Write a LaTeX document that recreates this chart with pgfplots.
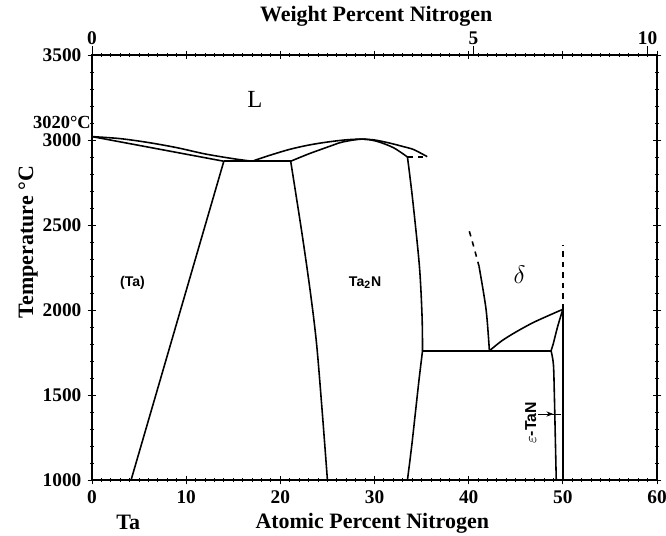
\documentclass[border=0pt]{standalone}
\usepackage{pgfplots}
\pgfplotsset{compat=1.18}
\usepackage{fontspec}
\setmainfont{Liberation Serif}
\setsansfont{Liberation Sans}
\usetikzlibrary{arrows.meta}

\begin{document}
\begin{tikzpicture}
% main diagram, atomic percent
\begin{axis}[
    name=main,
    scale only axis, width=11.3cm, height=8.5cm,
    xmin=0, xmax=60, ymin=1000, ymax=3500,
    xtick={0,10,...,60}, ytick={1000,1500,...,3500},
    minor x tick num=9, minor y tick num=4,
    tick align=center,
    major tick length=5pt, minor tick length=2.5pt,
    axis line style={line width=0.6pt},
    tick style={black, line width=0.5pt},
    ticklabel style={font=\fontsize{11}{12}\selectfont\bfseries},
    /pgf/number format/assume math mode=true,
    /pgf/number format/1000 sep={},
    xlabel={Atomic Percent Nitrogen},
    ylabel={Temperature °C},
    label style={font=\fontsize{12.5}{14}\selectfont\bfseries},
    xlabel style={at={(axis description cs:0.496,-0.101)}, anchor=center},
    ylabel style={at={(axis description cs:-0.113,0.56)}, anchor=center},
    cycle list={{black, line width=0.9pt, no marks}},
    every axis plot/.append style={black, line width=0.9pt, no marks},
    clip=false,
]
% Ta-rich side
\addplot coordinates {(0,3020) (14,2875)};
\addplot coordinates {(14,2875) (4.15,1000)};
\addplot[smooth] coordinates {(0,3020) (3,3008) (6,2985) (9,2955) (12,2918) (15,2890) (17,2875)};
\addplot coordinates {(14,2875) (21.1,2875)};
% Ta2N liquidus and solidus
\addplot[smooth] coordinates {(17,2875) (19,2912) (21,2945) (23,2970) (25,2988) (27,3001) (28.6,3005) (30,3000) (31.6,2982) (33,2962) (34.1,2945) (35,2920) (35.6,2902)};
\addplot[smooth] coordinates {(21.1,2875) (23,2918) (25.2,2962) (26.6,2988) (28.6,3005) (30.2,2993) (32,2955) (33.5,2900)};
\addplot[dashed] coordinates {(33.5,2900) (35.6,2900)};
% Ta2N boundaries
\addplot[smooth] coordinates {(21.1,2875) (22.3,2450) (23.2,2100) (23.85,1800) (24.45,1400) (25,1000)};
\addplot[smooth] coordinates {(33.5,2900) (34.05,2650) (34.77,2257) (35.05,1962) (35.1,1760)};
\addplot[smooth] coordinates {(35.1,1760) (34.75,1600) (34.35,1400) (33.95,1200) (33.5,1000)};
\addplot coordinates {(35.1,1760) (48.75,1760)};
% delta region
\addplot[dashed, smooth] coordinates {(40.07,2463) (40.6,2360) (41.1,2257)};
\addplot[smooth] coordinates {(41.1,2257) (41.85,2002) (42.2,1760)};
\addplot[smooth] coordinates {(42.2,1760) (43.5,1818) (45,1870) (47,1930) (50,2004)};
\addplot[smooth] coordinates {(50,2004) (49.45,1903) (49.0,1805) (48.75,1760)};
\addplot[smooth] coordinates {(48.75,1760) (49.0,1680) (49.1,1500) (49.2,1250) (49.3,1000)};
\addplot coordinates {(50,1000) (50,2004)};
\addplot[dashed] coordinates {(50,2004) (50,2385)};
% arrow to epsilon-TaN
\draw[line width=0.6pt, -{Stealth[length=4pt]}] (axis cs:47.4,1388) -- (axis cs:49.0,1388);
\draw[line width=0.6pt] (axis cs:48.9,1388) -- (axis cs:49.8,1388);
% phase labels
\node at (axis cs:17.3,3239) {\fontsize{14}{14}\selectfont L};
\node at (axis cs:4.3,2160) {\sffamily\fontsize{8}{9}\selectfont\bfseries (Ta)};
\node at (axis cs:29,2160) {\sffamily\fontsize{8}{9}\selectfont\bfseries Ta\textsubscript{2}N};
\node at (axis cs:45.4,2208) {\fontsize{14}{14}\selectfont$\delta$};
\node[rotate=90] at (axis cs:46.6,1335) {\sffamily\fontsize{9}{10}\selectfont\bfseries $\varepsilon$-TaN};
\node[anchor=east, inner sep=0pt, font=\fontsize{10.5}{12}\selectfont\bfseries] at (axis cs:-0.1,3102) {3020°C};
\node[font=\fontsize{12.5}{14}\selectfont\bfseries] at (axis description cs:0.064,-0.099) {Ta};
\end{axis}

% weight percent scale on top
\begin{axis}[
    scale only axis, width=11.3cm, height=8.5cm,
    xmin=0, xmax=60, ymin=0, ymax=1,
    axis x line*=top, axis y line=none,
    xtick={0,40.5,59}, xticklabels={0,5,10},
    tick align=outside, major tick length=5pt,
    axis line style={line width=0.6pt, -},
    tick style={black, line width=0.5pt},
    ticklabel style={font=\fontsize{11}{12}\selectfont\bfseries},
    xticklabel style={yshift=-2.5pt},
    /pgf/number format/assume math mode=true,
    xlabel={Weight Percent Nitrogen},
    label style={font=\fontsize{12.5}{14}\selectfont\bfseries},
    xlabel style={at={(axis description cs:0.503,1.09)}, anchor=center},
]
\end{axis}

\pgfresetboundingbox
\path[use as bounding box] ([xshift=-1.84cm,yshift=-1.12cm]main.south west) rectangle ([xshift=0.18cm,yshift=1.1cm]main.north east);
\end{tikzpicture}
\end{document}
